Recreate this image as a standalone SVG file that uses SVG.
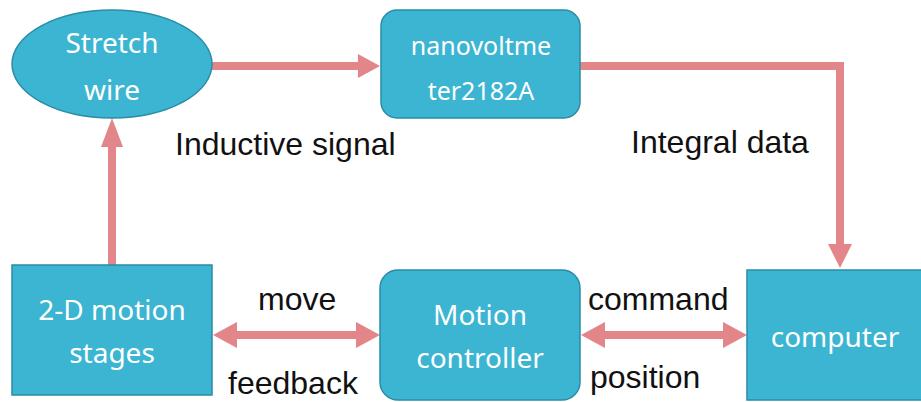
<svg xmlns="http://www.w3.org/2000/svg" width="921" height="402" viewBox="0 0 921 402">
<defs>
<style>
.node{fill:#3bb5d2;stroke:#2a8ca6;stroke-width:1.5}
.nt{font-family:"Noto Sans","Open Sans",sans-serif;font-size:28px;fill:#ffffff;text-anchor:middle}
.lb{font-family:"Liberation Sans",Arial,sans-serif;font-size:32px;fill:#111111}
.ln{fill:none;stroke:#e3868a;stroke-width:8}
.ah{fill:#e3868a}
</style>
</defs>
<rect width="921" height="402" fill="#ffffff"/>
<g id="connectors">
<line class="ln" x1="212" y1="66" x2="360" y2="66"/>
<polygon class="ah" points="380,66 358,54 358,78"/>
<polyline class="ln" points="580,66 840,66 840,246"/>
<polygon class="ah" points="840,268 828,244 852,244"/>
<line class="ln" x1="112" y1="265" x2="112" y2="144"/>
<polygon class="ah" points="112,118 101,147 123,147"/>
<line class="ln" x1="232" y1="335" x2="360" y2="335"/>
<polygon class="ah" points="213,335 237,322 237,348"/>
<polygon class="ah" points="380,335 356,322 356,348"/>
<line class="ln" x1="600" y1="335" x2="727" y2="335"/>
<polygon class="ah" points="581,335 605,322 605,348"/>
<polygon class="ah" points="747,335 723,322 723,348"/>
</g>
<g id="stretch-wire">
<ellipse class="node" cx="112" cy="64" rx="100" ry="54"/>
<text class="nt" x="112" y="53">Stretch</text>
<text class="nt" x="112" y="100">wire</text>
</g>
<g id="nanovoltmeter">
<rect class="node" x="381" y="10" width="199" height="108" rx="16"/>
<text class="nt" x="481" y="55" style="font-size:25px">nanovoltme</text>
<text class="nt" x="481" y="100" style="font-size:25px">ter2182A</text>
</g>
<g id="motion-stages">
<rect class="node" x="12" y="265" width="200" height="130"/>
<text class="nt" x="112" y="320">2-D motion</text>
<text class="nt" x="112" y="363">stages</text>
</g>
<g id="motion-controller">
<rect class="node" x="380" y="270" width="200" height="130" rx="18"/>
<text class="nt" x="480" y="325">Motion</text>
<text class="nt" x="480" y="368">controller</text>
</g>
<g id="computer">
<rect class="node" x="747" y="270" width="180" height="130"/>
<text class="nt" x="835" y="347">computer</text>
</g>
<g id="labels">
<text class="lb" x="175" y="155">Inductive signal</text>
<text class="lb" x="631" y="153">Integral data</text>
<text class="lb" x="258" y="310">move</text>
<text class="lb" x="228" y="394">feedback</text>
<text class="lb" x="588" y="310">command</text>
<text class="lb" x="590" y="388">position</text>
</g>
</svg>
